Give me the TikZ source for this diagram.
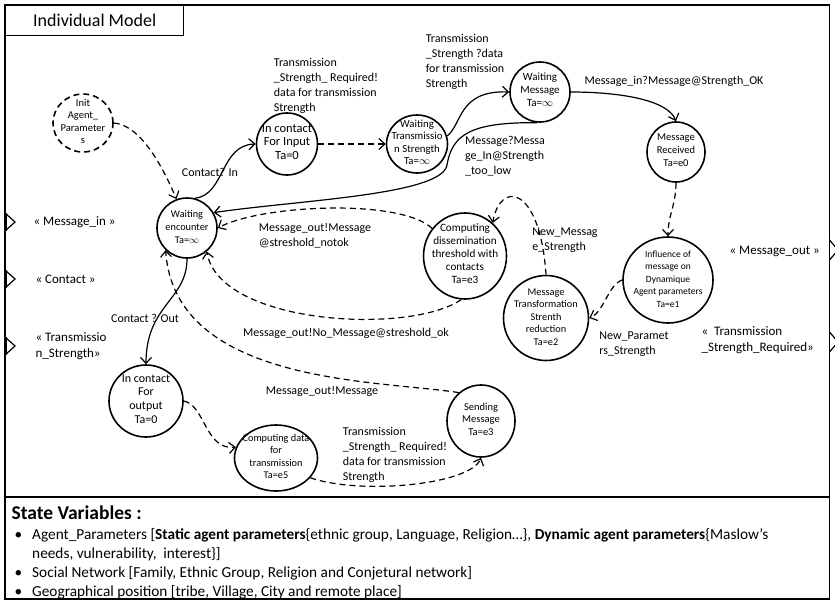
\documentclass[tikz,border=0pt]{standalone}
\usepackage{fontspec}
\setmainfont{Carlito}
\usepackage{tikz}
\usetikzlibrary{arrows.meta,automata,shapes.geometric}

\newcommand{\stt}[1]{\makebox[0pt]{\smash{\raisebox{-2pt}{\begin{tabular}{@{}c@{}}#1\end{tabular}}}}}

\begin{document}
\begin{tikzpicture}[x=1pt,y=-1pt,>={Straight Barb[length=6pt,width=11pt]},
line width=1.2pt]
\tikzstyle{every state}=[ellipse,draw=black,line width=1.6pt,inner sep=0pt,font=\fontsize{9.5}{12.5}\selectfont]
\tikzstyle{lbl}=[align=left,inner sep=0pt,font=\fontsize{12}{15}\selectfont]
\tikzstyle{port}=[align=left,inner sep=0pt,anchor=west,font=\fontsize{13}{16}\selectfont]
\tikzstyle{dsh}=[dash pattern=on 6pt off 4pt]
\useasboundingbox (0,0) rectangle (835,600);
% frames
\draw[line width=1.4pt] (5,5) rectangle (829.5,497);
\draw[line width=1.4pt] (5,497) rectangle (829.5,599);
\node[draw,line width=1.4pt,anchor=north west,minimum width=178pt,minimum height=30pt,
  font=\fontsize{18}{21}\selectfont] (title) at (5,5) {Individual Model};
% ports
\draw (5,213) -- (15,222) -- (5,231);
\draw (5,270) -- (15,279) -- (5,288);
\draw (5,337) -- (15,346) -- (5,355);
\draw[line width=2.8pt] (6,213) -- (6,231) (6,270) -- (6,288) (6,337) -- (6,355);
\draw (829.5,240) -- (838,250) -- (829.5,260);
\draw (829.5,332) -- (838,342) -- (829.5,352);
\node[port] (pmsgin) at (33,222) {« Message\_in »};
\node[port] (pcontact) at (35,279) {« Contact »};
\node[port] (ptrans) at (35,346) {« Transmissio\\n\_Strength»};
\node[port] (pmsgout) at (729,251) {« Message\_out »};
\node[port] (ptransreq) at (701,340) {«~ Transmission\\\_Strength\_Required»};
% states
\node[state,dsh,minimum width=60pt,minimum height=58pt,font=\fontsize{10.5}{12.5}\selectfont] (init) at (83,123) {\stt{Init\\Agent\_\\Parameter\\s}};
\node[state,minimum width=60pt,minimum height=60pt,font=\fontsize{10.3}{13}\selectfont] (waitenc) at (187,228) {\stt{Waiting\\encounter\\Ta=$\infty$}};
\node[state,minimum width=61pt,minimum height=62pt,font=\fontsize{12.5}{13.5}\selectfont] (inctin) at (287,144) {\stt{In contact\\For Input\\Ta=0}};
\node[state,minimum width=61pt,minimum height=58pt,font=\fontsize{10.8}{12.5}\selectfont] (waittrans) at (417,144) {\stt{Waiting\\Transmissio\\n Strength\\Ta=$\infty$}};
\node[state,minimum width=60pt,minimum height=60pt,font=\fontsize{11}{13}\selectfont] (waitmsg) at (540,92) {\stt{Waiting\\Message\\Ta=$\infty$}};
\node[state,minimum width=58pt,minimum height=60pt,font=\fontsize{10.5}{13}\selectfont] (msgrec) at (676,152) {\stt{Message\\Received\\Ta=e0}};
\node[state,minimum width=90pt,minimum height=86pt] (influ) at (668,280) {\stt{Influence of\\message on\\Dynamique\\Agent parameters\\Ta=e1}};
\node[state,minimum width=85pt,minimum height=85pt,font=\fontsize{10.3}{12.5}\selectfont] (msgtrans) at (546,318) {\stt{Message\\Transformation\\Strenth\\reduction\\Ta=e2}};
\node[state,minimum width=83pt,minimum height=86pt,font=\fontsize{11.2}{13}\selectfont] (compdiss) at (465,256) {\stt{Computing\\dissemination\\threshold with\\contacts\\Ta=e3}};
\node[state,minimum width=74pt,minimum height=72pt,font=\fontsize{12}{13.7}\selectfont] (inctout) at (146,401) {\stt{In contact\\For\\output\\Ta=0}};
\node[state,minimum width=83pt,minimum height=66pt,font=\fontsize{10.3}{12.3}\selectfont] (compdata) at (276,458) {\stt{Computing data\\for\\transmission\\Ta=e5}};
\node[state,minimum width=68pt,minimum height=72pt,font=\fontsize{10.5}{12.5}\selectfont] (sending) at (481,421) {\stt{Sending\\Message\\Ta=e3}};
% transitions
\draw[dsh,->] (init.east) .. controls (140,125) and (162,165) .. (waitenc.110);
\draw[->] (waitenc.75) .. controls (225,195) and (220,145) .. (inctin.west);
\draw[dsh,->] (inctin.east) -- (waittrans.west);
\draw[->] (waittrans.15) .. controls (462,125) and (458,90) .. (waitmsg.west);
\draw[->] (waitmsg.265) .. controls (470,122) and (452,135) .. (447,165)
  .. controls (442,195) and (300,200) .. (waitenc.30);
\draw[->] (waitmsg.east) .. controls (620,92) and (668,100) .. (msgrec.north);
\draw[dsh,->] (msgrec.south) .. controls (676,205) and (668,215) .. (influ.north);
\draw[dsh,->] (influ.west) .. controls (608,285) and (604,312) .. (msgtrans.east);
\draw[dsh,->] (msgtrans.north) .. controls (540,185) and (500,180) .. (compdiss.50);
\draw[dsh,->] (compdiss.140) .. controls (400,198) and (260,205) .. (waitenc.east);
\draw[dsh,->] (compdiss.265) .. controls (410,335) and (220,325) .. (waitenc.-50);
\draw[->] (waitenc.south) .. controls (187,300) and (146,305) .. (inctout.north);
\draw[dsh,->] (sending.128) .. controls (380,380) and (175,385) .. (waitenc.-134);
\draw[dsh,->] (inctout.east) .. controls (205,405) and (205,450) .. (compdata.165);
\draw[dsh,->] (compdata.-30) .. controls (360,495) and (470,485) .. (sending.south);
% labels
\node[lbl] (lblcontactin) at (210,172) {Contact? In};
\node[lbl] (lbltransreq) at (326,86) {Transmission\\\_Strength\_ Required!\\data for transmission\\Strength};
\node[lbl] (lbltransdata) at (465,62) {Transmission\\\_Strength ?data\\for transmission\\Strength};
\node[lbl] (lbltoolow) at (505,156) {Message?Messa\\ge\_In@Strength\\\_too\_low};
\node[lbl] (lblstrok) at (674,81) {Message\_in?Message@Strength\_OK};
\node[lbl] (lblnewmsg) at (565,240) {New\_Messag\\e\_Strength};
\node[lbl] (lblnewpar) at (634,344) {New\_Paramet\\rs\_Strength};
\node[lbl] (lblnotok) at (315,236) {Message\_out!Message\\@streshold\_notok};
\node[lbl] (lblok) at (346,333) {Message\_out!No\_Message@streshold\_ok};
\node[lbl] (lblcontactout) at (145,318) {Contact ? Out};
\node[lbl] (lblmsgout) at (322,391) {Message\_out!Message};
\node[lbl] (lbltransreqout) at (395,455) {Transmission\\\_Strength\_ Required!\\data for transmission\\Strength};
% state variables
\node[anchor=west,inner sep=0pt,font=\bfseries\fontsize{19.5}{22}\selectfont] (svtitle) at (11,513) {State Variables :};
\node[anchor=north west,inner sep=0pt,font=\fontsize{15.3}{18.8}\selectfont] (svlist) at (14,526) {%
\begin{tabular}{@{}l@{\hspace{10pt}}l@{}}
\textbullet & Agent\_Parameters [\textbf{Static agent parameters}\{ethnic group, Language, Religion…\}, \textbf{Dynamic agent parameters}\{Maslow's\\
 & needs, vulnerability,\ \ interest\}]\\
\textbullet & Social Network [Family, Ethnic Group, Religion and Conjetural network]\\
\textbullet & Geographical position [tribe, Village, City and remote place]
\end{tabular}};
\end{tikzpicture}
\end{document}
